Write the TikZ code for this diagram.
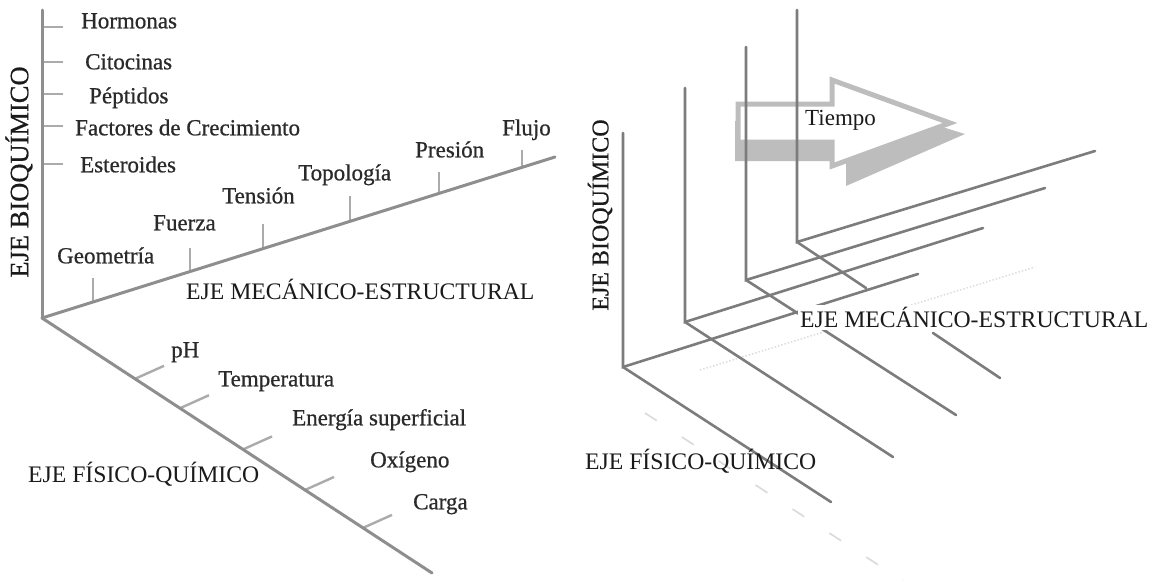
\documentclass[tikz,border=0pt]{standalone}
\usepackage{fontspec}
\setmainfont{Liberation Serif}
\newfontfamily\heavyserif[FakeBold=0.7]{Liberation Serif}
\usetikzlibrary{calc}
\definecolor{axgray}{HTML}{8E8E8E}
\definecolor{tkgray}{HTML}{ABABAB}
\definecolor{rgray}{HTML}{7C7C7C}
\definecolor{ghost}{HTML}{DADADA}
\definecolor{arrgray}{HTML}{BDBDBD}
\definecolor{txt}{HTML}{2A2A2A}
\definecolor{axtxt}{HTML}{1A1A1A}
\begin{document}
\begin{tikzpicture}[x=1pt,y=-1pt,
  axisline/.style={draw=axgray, line width=3pt, line cap=round},
  tickline/.style={draw=tkgray, line width=2.4pt},
  rline/.style={draw=rgray, line width=2.6pt, line cap=round},
  ghostline/.style={draw=ghost, line width=1.6pt, dash pattern=on 14pt off 30pt},
  ticklabel/.style={font=\heavyserif\fontsize{23}{23}\selectfont, text=txt, inner sep=0pt, anchor=mid west},
  axislabel/.style={font=\fontsize{23.7}{24}\selectfont, text=axtxt, inner sep=0pt, anchor=mid west},
  biolabel/.style={text=axtxt, rotate=90, inner sep=0pt},
  arrowshadow/.style={fill=arrgray, draw=none},
  arrowfront/.style={fill=white, draw=arrgray, line width=5pt, line join=miter}
]
\useasboundingbox (0,0) rectangle (1157,581);
\fill[white] (0,0) rectangle (1157,581);

%% ================= LEFT PANEL =================
\coordinate (O) at (42,318);
\coordinate (Btop) at (42,10);
\coordinate (Mend) at (555,157);
\coordinate (Pend) at (432,573);

% bio ticks
\foreach \yy/\nm in {27/h,62/c,94/p,126/f,164/e}{
  \coordinate (bt\nm) at (42,\yy);
  \coordinate (bte\nm) at (63,\yy);
  \draw[tickline] (bt\nm) -- (bte\nm);
}
% mechanical ticks
\foreach \t/\len/\nm in {0.0994/24/g,0.2885/24/fu,0.4308/25/te,0.6004/25/to,0.7739/21/pr,0.9357/17/fl}{
  \coordinate (mt\nm) at ($(O)!\t!(Mend)$);
  \coordinate (mte\nm) at ($(mt\nm)+(0,-\len)$);
  \draw[tickline] (mt\nm) -- (mte\nm);
}
% physico-chemical ticks
\foreach \t/\nm in {0.2385/ph,0.3538/tp,0.5154/en,0.6744/ox,0.8231/ca}{
  \coordinate (pt\nm) at ($(O)!\t!(Pend)$);
  \coordinate (pte\nm) at ($(pt\nm)+(29,-13)$);
  \draw[tickline] (pt\nm) -- (pte\nm);
}
% axes
\draw[axisline] (O) -- (Btop);
\draw[axisline] (O) -- (Mend);
\draw[axisline] (O) -- (Pend);

% labels
\node[biolabel, font=\heavyserif\fontsize{26.5}{27}\selectfont] (lbio) at (19,172) {EJE BIOQUÍMICO};
\node[ticklabel] (hor) at (81,26) {Hormonas};
\node[ticklabel] (cit) at (85,67) {Citocinas};
\node[ticklabel] (pep) at (89,101) {Péptidos};
\node[ticklabel] (fac) at (75,133) {Factores de Crecimiento};
\node[ticklabel] (est) at (80,170) {Esteroides};
\node[ticklabel] (geo) at (57,261) {Geometría};
\node[ticklabel] (fue) at (153,228) {Fuerza};
\node[ticklabel] (ten) at (222,201) {Tensión};
\node[ticklabel] (top) at (298,178) {Topología};
\node[ticklabel] (pre) at (415,155) {Presión};
\node[ticklabel] (flu) at (502,133) {Flujo};
\node[axislabel] (lmec) at (186,297) {EJE MECÁNICO-ESTRUCTURAL};
\node[ticklabel] (ph) at (171,355) {pH};
\node[ticklabel] (tem) at (218,384) {Temperatura};
\node[ticklabel] (ene) at (292,423) {Energía superficial};
\node[ticklabel] (oxi) at (370,465) {Oxígeno};
\node[ticklabel] (car) at (413,507) {Carga};
\node[axislabel] (lfis) at (28,480) {EJE FÍSICO-QUÍMICO};

%% ================= RIGHT PANEL =================
% time arrow
\draw[arrowshadow] (735,121) -- (845,121) -- (845,97) -- (965,134) -- (846,186) -- (846,161) -- (735,161) -- cycle;
\draw[arrowfront] (738,104) -- (832,104) -- (832,80) -- (950,123) -- (832,166) -- (832,142) -- (738,142) -- cycle;
\node[ticklabel, font=\fontsize{23}{23}\selectfont, text=axtxt] (tiempo) at (805,123) {Tiempo};

% frames
\coordinate (C1) at (623,367); \coordinate (T1) at (623,133);
\coordinate (M1) at (918,274); \coordinate (P1) at (831,502);
\coordinate (C2) at (685,322); \coordinate (T2) at (685,88);
\coordinate (M2) at (983,228); \coordinate (P2) at (893,457);
\coordinate (C3) at (746,280); \coordinate (T3) at (746,47);
\coordinate (M3) at (1045,188); \coordinate (P3) at (956,415);
\coordinate (C4) at (797,242); \coordinate (T4) at (797,10);
\coordinate (M4) at (1095,151); \coordinate (P4) at (1000,378);
\coordinate (G4a) at (866,288); \coordinate (G4b) at (933,333);

% ghost lines
\coordinate (GHa) at (645,413); \coordinate (GHb) at (906,583);
\coordinate (GMa) at (700,370); \coordinate (GMb) at (1035,267);
\draw[ghostline] (GHa) -- (GHb);
\draw[draw=ghost, line width=1.4pt, dotted] (GMa) -- (GMb);

\draw[rline] (T1) -- (C1) -- (M1);
\draw[rline] (C1) -- (P1);
\draw[rline] (T2) -- (C2) -- (M2);
\draw[rline] (C2) -- (P2);
\draw[rline] (T3) -- (C3) -- (M3);
\draw[rline] (C3) -- (P3);
\draw[rline] (T4) -- (C4) -- (M4);
\draw[rline] (C4) -- (G4a);
\draw[rline] (G4b) -- (P4);

\node[biolabel, font=\heavyserif\fontsize{24}{24}\selectfont] (rbio) at (600,215) {EJE BIOQUÍMICO};
\node[axislabel, fill=white, inner sep=2pt] (rmec) at (798,325) {EJE MECÁNICO-ESTRUCTURAL};
\node[axislabel] (rfis) at (585,467) {EJE FÍSICO-QUÍMICO};
\end{tikzpicture}
\end{document}
